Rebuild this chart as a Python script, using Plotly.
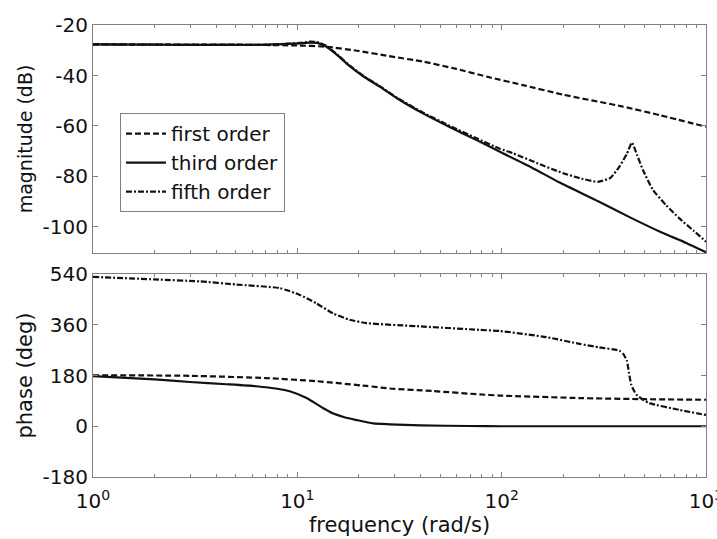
import plotly.graph_objects as go

# ---------------- data ----------------
freq_mag_first = [1, 5, 10, 13.9, 20, 28, 41.2, 60, 85, 127, 200, 392, 600, 1000]
mag_first = [-27.7, -27.8, -28.1, -28.6, -30.3, -32.3, -34.5, -37.4, -40.5, -43.8, -47.6, -52.3, -55.8, -60.3]

freq_mag_third = [1, 2, 4, 7, 9, 10.3, 11.5, 12.5, 13.9, 16, 18, 21, 25.3, 31, 41.2, 55, 75, 98, 140, 191, 300, 420, 600, 800, 1000]
mag_third = [-27.7, -27.8, -27.9, -27.8, -27.5, -27.3, -27.0, -27.1, -28.6, -32.5, -36.2, -40.3, -44.4, -49.2, -55.0, -60.2, -65.5, -70.2, -76.4, -82.3, -90.0, -96.0, -102.0, -106.3, -110.0]

freq_mag_fifth = [1, 2, 4, 7, 9, 10.3, 11.5, 12.5, 13.9, 16, 18, 21, 25.3, 31, 41.2, 55, 75, 98, 113.6, 150, 200, 250, 296, 340, 377, 410, 434, 460, 491, 550, 640, 741, 870, 1000]
mag_fifth = [-27.7, -27.8, -27.9, -27.8, -27.4, -27.1, -26.6, -26.8, -28.3, -32.3, -36.0, -40.1, -44.2, -49.0, -54.7, -59.7, -64.8, -69.0, -70.8, -74.8, -78.7, -81.0, -82.1, -80.6, -76.1, -71.0, -66.6, -71.5, -77.4, -85.3, -91.5, -96.6, -101.5, -105.8]

freq_ph_first = [1, 3, 7, 12.4, 21.8, 28.3, 46, 78, 98, 241, 500, 1000]
ph_first = [181, 179, 171, 160, 143, 134, 125, 113, 109, 100, 96, 94]

freq_ph_third = [1, 2, 2.98, 4.5, 6.3, 8, 9.18, 11.1, 13.4, 14.9, 17, 19.5, 23.5, 28.3, 40, 70, 100, 1000]
ph_third = [178, 166, 157, 149, 142, 133, 124, 100, 64, 46, 32, 22, 10, 7, 3, 1, 0, 0]

freq_ph_fifth = [1, 2, 3.33, 5, 8.2, 10.3, 12.4, 15, 18, 21.8, 38.4, 78, 98, 166, 241, 300, 377, 395, 410, 420, 430, 445, 457, 490, 528, 741, 1000]
ph_fifth = [530, 521, 514, 503, 490, 466, 436, 400, 378, 366, 355, 342, 338, 316, 292, 280, 268, 255, 232, 189, 149, 125, 112, 95, 82, 58, 40]

series_names = ["first order", "third order", "fifth order"]
x_tick_vals = [1, 10, 100, 1000]
x_tick_text = ["10<sup>0</sup>", "10<sup>1</sup>", "10<sup>2</sup>", "10<sup>3</sup>"]
mag_ticks = [-100, -80, -60, -40, -20]
mag_tick_text = ["-100", "-80", "-60", "-40", "-20"]
phase_ticks = [-180, 0, 180, 360, 540]
phase_tick_text = ["-180", "0", "180", "360", "540"]

# ---------------- styling ----------------
FONT = "DejaVu Sans"
INK = "#111111"
AXC = "#808080"
dashes = ["6px,3px", "solid", "6px,2px,2px,2px"]
minor_vals = [k * 10 ** d for d in range(0, 3) for k in range(2, 10)]

fig = go.Figure()
mags = [(freq_mag_first, mag_first), (freq_mag_third, mag_third), (freq_mag_fifth, mag_fifth)]
phs = [(freq_ph_first, ph_first), (freq_ph_third, ph_third), (freq_ph_fifth, ph_fifth)]
for i, (f, m) in enumerate(mags):
    fig.add_trace(go.Scatter(x=f, y=m, mode="lines", name=series_names[i],
                             line=dict(color=INK, width=2.2, dash=dashes[i], shape="spline", smoothing=0.5),
                             xaxis="x", yaxis="y"))
for i, (f, p) in enumerate(phs):
    fig.add_trace(go.Scatter(x=f, y=p, mode="lines", name=series_names[i], showlegend=False,
                             line=dict(color=INK, width=2.2, dash=dashes[i], shape="spline", smoothing=0.5),
                             xaxis="x2", yaxis="y2"))

common_x = dict(type="log", range=[0, 3], showgrid=False, zeroline=False, automargin=False,
                showline=True, linecolor=AXC, linewidth=1.2, mirror="ticks",
                ticks="inside", ticklen=5, tickcolor=AXC, tickvals=x_tick_vals,
                minor=dict(ticks="inside", ticklen=3, tickcolor=AXC, tickvals=minor_vals, showgrid=False))
common_y = dict(showgrid=False, zeroline=False, showline=True, linecolor=AXC, linewidth=1.2,
                automargin=False,
                mirror="ticks", ticks="inside", ticklen=5, tickcolor=AXC,
                tickfont=dict(family=FONT, size=20, color=INK))

fig.update_layout(
    width=717, height=539,
    margin=dict(l=93, r=11, t=25, b=62, autoexpand=False),
    paper_bgcolor="white", plot_bgcolor="white",
    font=dict(family=FONT, size=20, color=INK),
    xaxis=dict(common_x, domain=[0, 1], anchor="y", showticklabels=False),
    yaxis=dict(common_y, domain=[0.4956, 1], anchor="x", range=[-110.3, -20],
               tickvals=mag_ticks, ticktext=mag_tick_text,
               title=dict(text="magnitude (dB)", font=dict(family=FONT, size=19, color=INK), standoff=4)),
    xaxis2=dict(common_x, domain=[0, 1], anchor="y2", ticktext=x_tick_text,
                tickfont=dict(family=FONT, size=20, color=INK), ticklabeloverflow="allow",
                ticklabelstandoff=6,
                title=dict(text="frequency (rad/s)", font=dict(family=FONT, size=21, color=INK), standoff=2)),
    yaxis2=dict(common_y, domain=[0, 0.449], anchor="x2", range=[-180, 540],
                tickvals=phase_ticks, ticktext=phase_tick_text,
                title=dict(text="phase (deg)", font=dict(family=FONT, size=21, color=INK), standoff=4)),
    legend=dict(x=0.044, y=0.805, xanchor="left", yanchor="top",
                bgcolor="white", bordercolor=AXC, borderwidth=1,
                font=dict(family=FONT, size=20, color=INK),
                tracegroupgap=0, itemwidth=40),
)

fig.write_html("out.html")
